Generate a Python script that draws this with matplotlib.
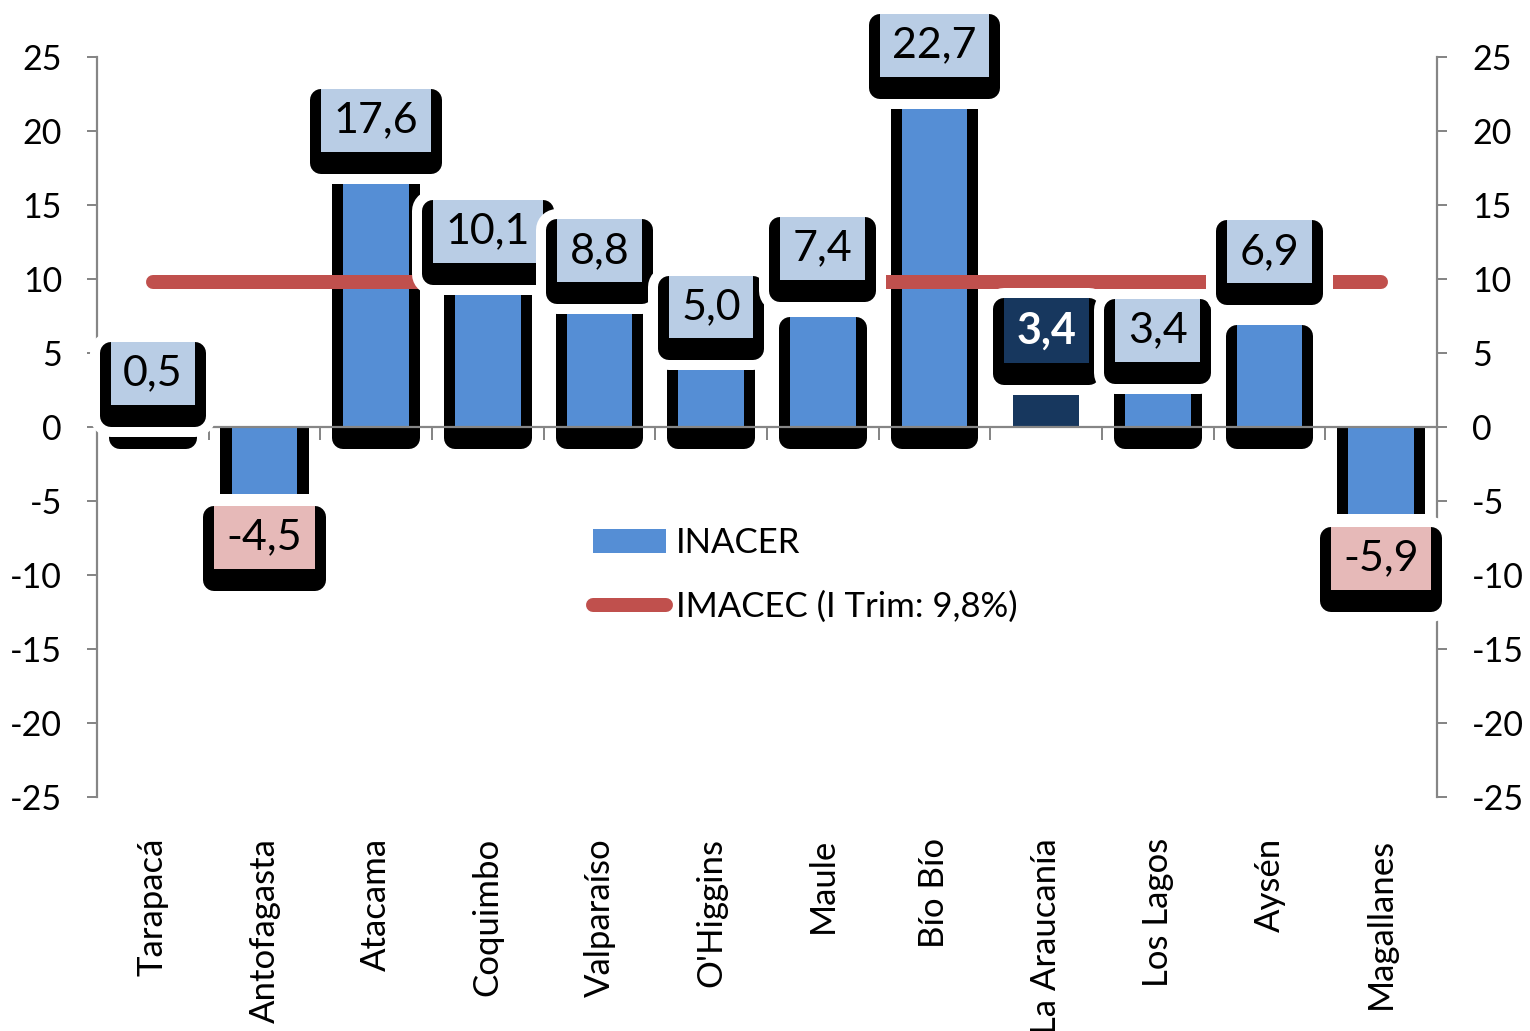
import numpy as np
import matplotlib
matplotlib.use("Agg")
import matplotlib.pyplot as plt
import matplotlib.patheffects as pe
from matplotlib.patches import Patch
from matplotlib.lines import Line2D

regiones = ["Tarapacá", "Antofagasta", "Atacama", "Coquimbo", "Valparaíso", "O'Higgins",
            "Maule", "Bío Bío", "La Araucanía", "Los Lagos", "Aysén", "Magallanes"]
inacer = [0.5, -4.5, 17.6, 10.1, 8.8, 5.0, 7.4, 22.7, 3.4, 3.4, 6.9, -5.9]
imacec = [9.8] * 12
destacada = "La Araucanía"

PX = 72 / 100  # puntos por pixel (dpi 100)
gris = "#868686"
# etiquetas movidas a mano en el original (pixeles sobre la barra)
desplazadas = {"Maule": 69, "Aysén": 73}

plt.rcParams["font.family"] = ["Lato", "DejaVu Sans"]
plt.rcParams["axes.unicode_minus"] = False

fig = plt.figure(figsize=(15.3, 10.31), dpi=100)
ax = fig.add_axes([97 / 1530, 1 - 797 / 1031, 1340 / 1530, 740 / 1031])

x = np.arange(len(regiones))
colores = ["#17375E" if r == destacada else "#558ED5" for r in regiones]
barras = ax.bar(x, inacer, width=0.59, color=colores, zorder=1)

sombra = pe.Stroke(offset=(0, -11 * PX), linewidth=22 * PX, foreground="black", joinstyle="round")
for i, (b, v) in enumerate(zip(barras, inacer)):
    if regiones[i] == destacada:
        continue
    if v >= 0:
        b.set_path_effects([sombra, pe.Normal()])
    else:
        ax.bar(x[i], v, width=0.79, color="black", zorder=0.9)

ax.plot(x, imacec, color="#C0504D", lw=14 * PX, solid_capstyle="round", zorder=2)

# etiquetas de datos
borde_blanco = pe.Stroke(offset=(0, -11 * PX), linewidth=42 * PX, foreground="white", joinstyle="round")
for i, v in enumerate(inacer):
    tc, fw = "black", "normal"
    if regiones[i] == destacada:
        fc, tc, fw = "#17375E", "white", "bold"
    elif v < 0:
        fc = "#E6B9B8"
    else:
        fc = "#B9CDE5"
    if v >= 0:
        dy = desplazadas.get(regiones[i], 46) * PX
    else:
        dy = -44 * PX
    t = ax.annotate(f"{v:.1f}".replace(".", ","), xy=(i, v), xytext=(0, dy),
                    textcoords="offset points", ha="center", va="center",
                    fontsize=31, color=tc, fontweight=fw, zorder=6,
                    bbox=dict(boxstyle="square,pad=0.29", fc=fc, ec="none"))
    t.get_bbox_patch().set_path_effects([borde_blanco, sombra, pe.Normal()])

# ejes
ax.set_xlim(-0.5, 11.5)
ax.set_ylim(-25, 25)
ax.spines["top"].set_visible(False)
for s in ["left", "right", "bottom"]:
    ax.spines[s].set_color(gris)
    ax.spines[s].set_linewidth(2.2 * PX)
ax.spines["bottom"].set_position(("data", 0))

ax.set_yticks(np.arange(-25, 26, 5))
ax.tick_params(axis="y", left=True, right=True, labelleft=True, labelright=True,
               direction="out", length=10 * PX, width=2 * PX, color=gris,
               labelsize=24.5, pad=18)
ax.set_xticks([])
ax.set_xticks(np.arange(-0.5, 12, 1), minor=True)
ax.tick_params(axis="x", which="minor", direction="out", length=13 * PX, width=2 * PX, color=gris)

sec = ax.secondary_xaxis("bottom")
sec.set_xticks(x, labels=regiones, rotation=90)
sec.tick_params(length=0, pad=29.5, labelsize=25)
sec.spines["bottom"].set_visible(False)

handles = [Patch(facecolor="#558ED5", edgecolor="none"),
           Line2D([], [], color="#C0504D", lw=14 * PX, solid_capstyle="round")]
ax.legend(handles, ["INACER", "IMACEC (I Trim: 9,8%)"], loc="center left",
          bbox_to_anchor=(0.370, 0.300), frameon=False, fontsize=25,
          handlelength=2.1, handletextpad=0.3, labelspacing=0.9,
          borderaxespad=0, borderpad=0)

fig.savefig("out.png", dpi=100)
